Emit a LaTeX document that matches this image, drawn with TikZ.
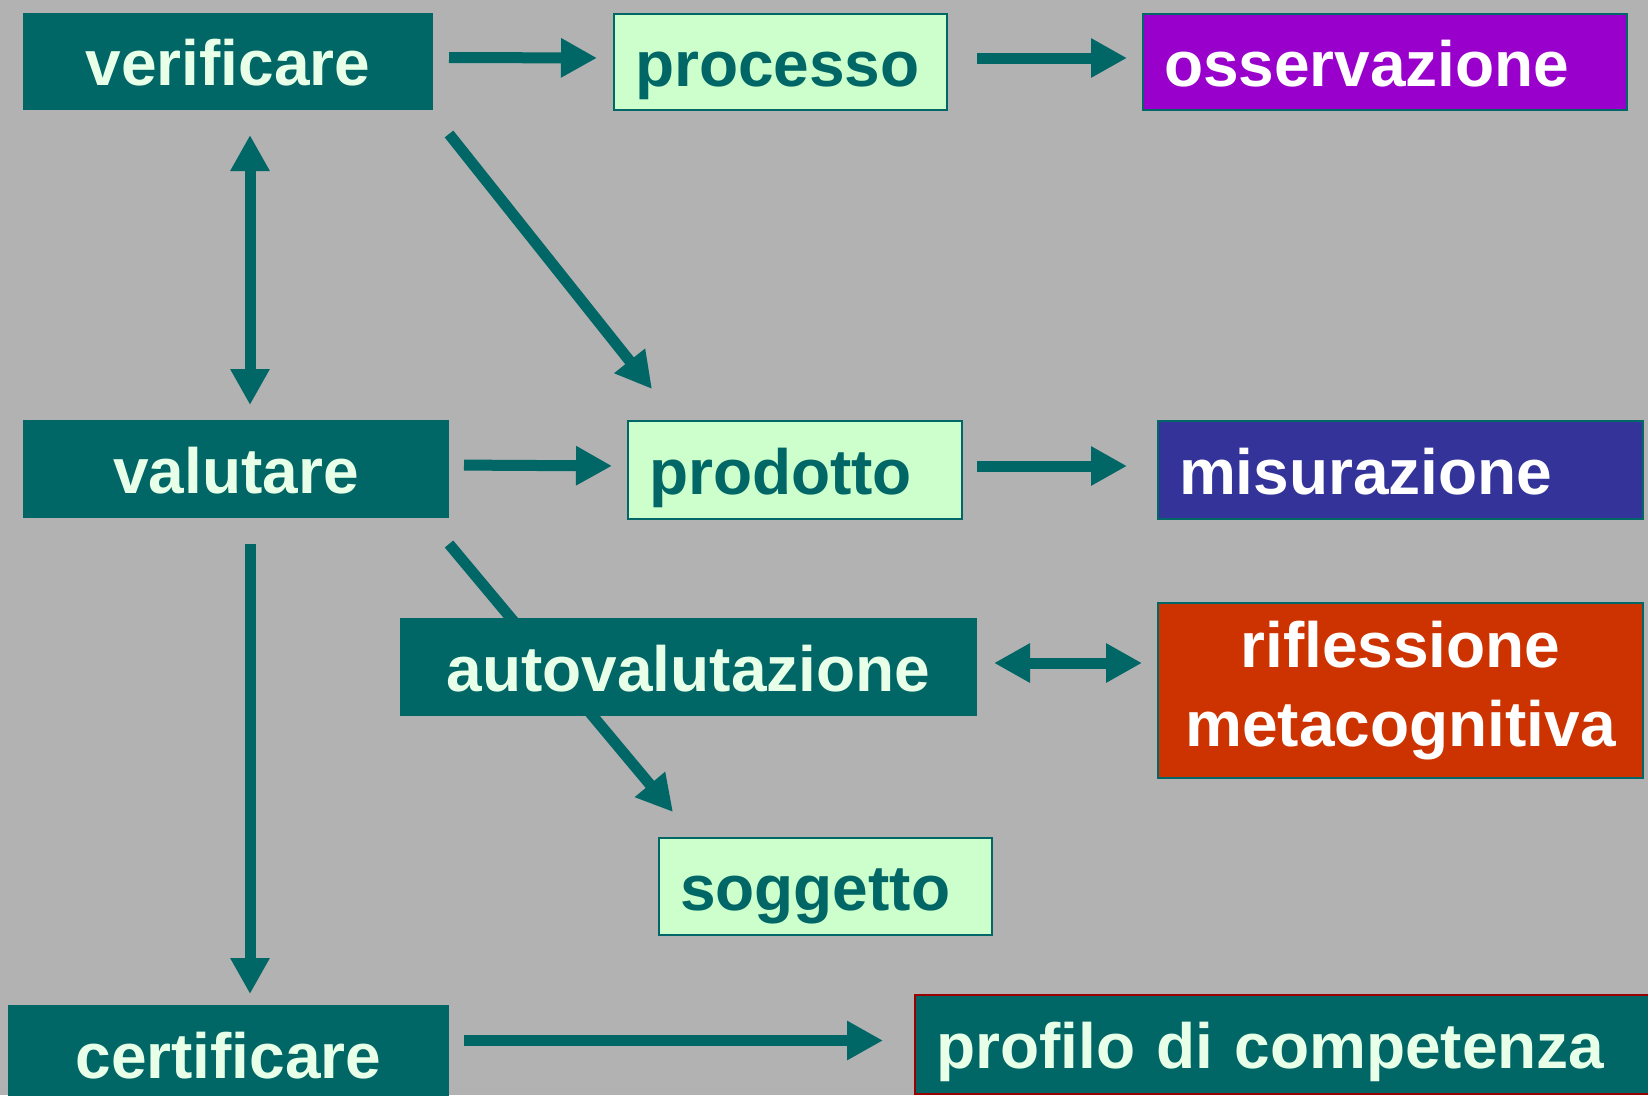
\documentclass[tikz,border=0pt]{standalone}
\usepackage{fontspec}
\setmainfont{Liberation Sans}
\usetikzlibrary{arrows.meta}
\definecolor{bggray}{HTML}{B2B2B2}
\definecolor{tealbox}{HTML}{006666}
\definecolor{mint}{HTML}{E8FFE8}
\definecolor{paleleaf}{HTML}{CCFFCC}
\definecolor{violetbox}{HTML}{9900CC}
\definecolor{indigobox}{HTML}{333399}
\definecolor{rustbox}{HTML}{CC3300}
\definecolor{redline}{HTML}{990000}
\pgfdeclarelayer{back}
\pgfsetlayers{back,main}
\begin{document}
\begin{tikzpicture}[x=1pt,y=-1pt,
        box/.style={anchor=north west,inner sep=0pt,line width=2pt,
            font=\bfseries\fontsize{64}{79}\selectfont},
        oneline/.style={text height=58pt,text depth=10pt},
        dark/.style={box,oneline,fill=tealbox,draw=tealbox,text=mint,align=center},
        light/.style={box,oneline,fill=paleleaf,draw=tealbox,text=tealbox,
            inner xsep=21pt,align=left},
        arr/.style={line width=11pt,draw=tealbox,-{Triangle[length=36pt,width=37pt]}},
        dblarr/.style={line width=11pt,draw=tealbox,
            {Triangle[length=36pt,width=37pt]}-{Triangle[length=36pt,width=37pt]}}]
        \useasboundingbox (0,0) rectangle (1648,1095);
        \clip (0,0) rectangle (1648,1095);
        % Draw first row
        \node[dark,minimum width=408pt,minimum height=95pt] (verificare) at (23,13) {verificare};
        \node[light,text width=291pt,minimum height=96pt] (processo) at (613,13) {processo};
        \node[light,fill=violetbox,text=white,text width=442pt,minimum height=96pt] (osservazione) at (1142,13) {osservazione};
        % Draw second row
        \node[dark,minimum width=424pt,minimum height=96pt] (valutare) at (23,420) {valutare};
        \node[light,text width=292pt,minimum height=98pt] (prodotto) at (627,420) {prodotto};
        \node[light,fill=indigobox,text=white,text width=443pt,minimum height=98pt] (misurazione) at (1157,420) {misurazione};
        % Draw self assessment
        \node[dark,minimum width=575pt,minimum height=96pt] (autovalutazione) at (400,618) {autovalutazione};
        \node[box,fill=rustbox,draw=tealbox,text=white,align=center,minimum width=485pt,minimum height=175pt] (riflessione) at (1157,602) {riflessione\\metacognitiva};
        \node[light,text width=291pt,minimum height=97pt] (soggetto) at (658,837) {soggetto};
        % Draw last row
        \node[dark,minimum width=439pt,minimum height=96pt] (certificare) at (8,1005) {certificare};
        \node[light,fill=tealbox,draw=redline,text=mint,text width=708pt,minimum height=99pt] (profilo) at (914,994) {profilo di competenza};
        % Draw arrows behind the boxes
        \begin{pgfonlayer}{back}
            \fill[bggray] (0,0) rectangle (1648,1095);
            \coordinate (spine) at (250,0);
            \draw[arr,shorten <=16pt,shorten >=16pt] ([yshift=4pt]verificare.east) -- ([yshift=4pt]processo.west);
            \draw[arr,shorten <=29pt,shorten >=15pt] ([yshift=4pt]processo.east) -- ([yshift=4pt]osservazione.west);
            \draw[dblarr,shorten <=25pt,shorten >=15pt] (verificare.south -| spine) -- (valutare.north -| spine);
            \draw[arr] ([shift={(16,24)}]verificare.south east) -- ([shift={(25,-31)}]prodotto.north west);
            \draw[arr,shorten <=15pt,shorten >=15pt] ([yshift=4pt]valutare.east) -- ([yshift=4pt]prodotto.west);
            \draw[arr,shorten <=14pt,shorten >=30pt] ([yshift=4pt]prodotto.east) -- ([yshift=4pt]misurazione.west);
            \draw[arr] ([shift={(0,26)}]valutare.south east) -- ([shift={(15,-25)}]soggetto.north west);
            \draw[dblarr,shorten <=17pt,shorten >=15pt] ([yshift=4pt]autovalutazione.east) -- ([yshift=4pt]autovalutazione.east -| riflessione.west);
            \draw[arr,shorten <=26pt,shorten >=11pt] (valutare.south -| spine) -- (certificare.north -| spine);
            \draw[arr,shorten <=15pt,shorten >=31pt] ([yshift=4pt]certificare.east |- profilo.west) -- ([yshift=4pt]profilo.west);
        \end{pgfonlayer}
    \end{tikzpicture}
\end{document}
